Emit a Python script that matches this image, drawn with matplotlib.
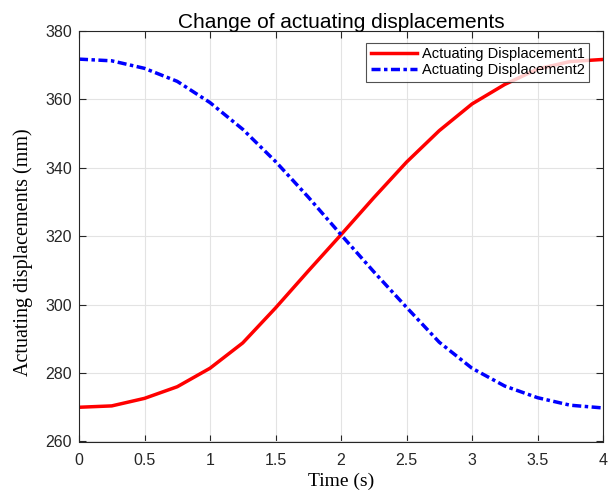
import matplotlib
matplotlib.use("Agg")
import matplotlib.pyplot as plt

time_s = [0, 0.25, 0.5, 0.75, 1.0, 1.25, 1.5, 1.75, 2.0, 2.25, 2.5, 2.75, 3.0, 3.25, 3.5, 3.75, 4.0]
disp1 = [270.0, 270.4, 272.6, 276.0, 281.4, 288.8, 299.0, 309.8, 320.4, 331.2, 341.6, 350.8, 358.6, 364.3, 368.8, 371.0, 371.6]
disp2 = [371.7, 371.2, 369.0, 365.2, 359.0, 351.2, 341.8, 331.4, 320.4, 309.6, 299.2, 289.0, 281.4, 276.2, 272.8, 270.6, 269.8]
labels = ["Actuating Displacement1", "Actuating Displacement2"]
xticks = [0, 0.5, 1, 1.5, 2, 2.5, 3, 3.5, 4]
xticklabels = ["0", "0.5", "1", "1.5", "2", "2.5", "3", "3.5", "4"]
yticks = [260, 280, 300, 320, 340, 360, 380]

sans = ["Liberation Sans", "DejaVu Sans"]
serif = ["Liberation Serif", "DejaVu Serif"]

fig = plt.figure(figsize=(6.11, 4.93), dpi=100)
ax = fig.add_axes([79/611, 1-441.5/493, (603-79)/611, (441.5-30.7)/493])

ax.plot(time_s, disp1, color="#ff0000", lw=2.5, ls="-", label=labels[0])
ax.plot(time_s, disp2, color="#0000ff", lw=2.5, ls=(0, (2.6, 1.0, 1.0, 1.0)), label=labels[1])

ax.set_xlim(0, 4)
ax.set_ylim(260, 380)
ax.set_xticks(xticks)
ax.set_xticklabels(xticklabels)
ax.set_yticks(yticks)
ax.grid(True, color="#e3e3e3", lw=0.8)
ax.set_axisbelow(True)
ax.tick_params(direction="in", top=True, right=True, length=5, width=0.8, colors="#262626", labelsize=11.5)
ax.tick_params(axis="x", pad=8)
ax.tick_params(axis="y", pad=5)
for lbl in ax.get_xticklabels() + ax.get_yticklabels():
    lbl.set_family(sans)
for sp in ax.spines.values():
    sp.set_color("#262626")
    sp.set_linewidth(0.8)

ax.set_xlabel("Time (s)", family=serif, fontsize=14, labelpad=4)
ax.set_ylabel("Actuating displacements (mm)", family=serif, fontsize=14.5)
ax.yaxis.set_label_coords(-0.088, 0.46)
ax.set_title("Change of actuating displacements", family=sans, fontsize=15, pad=2)

leg = ax.legend(loc="upper right", bbox_to_anchor=(589/611, 1-42.7/493), bbox_transform=fig.transFigure,
                prop={"family": sans, "size": 10.5}, frameon=True, fancybox=False,
                borderpad=0.3, labelspacing=0.15, handlelength=3.2, handletextpad=0.3, borderaxespad=0)
leg.get_frame().set_edgecolor("#262626")
leg.get_frame().set_linewidth(0.8)

fig.savefig("out.png", dpi=100)
